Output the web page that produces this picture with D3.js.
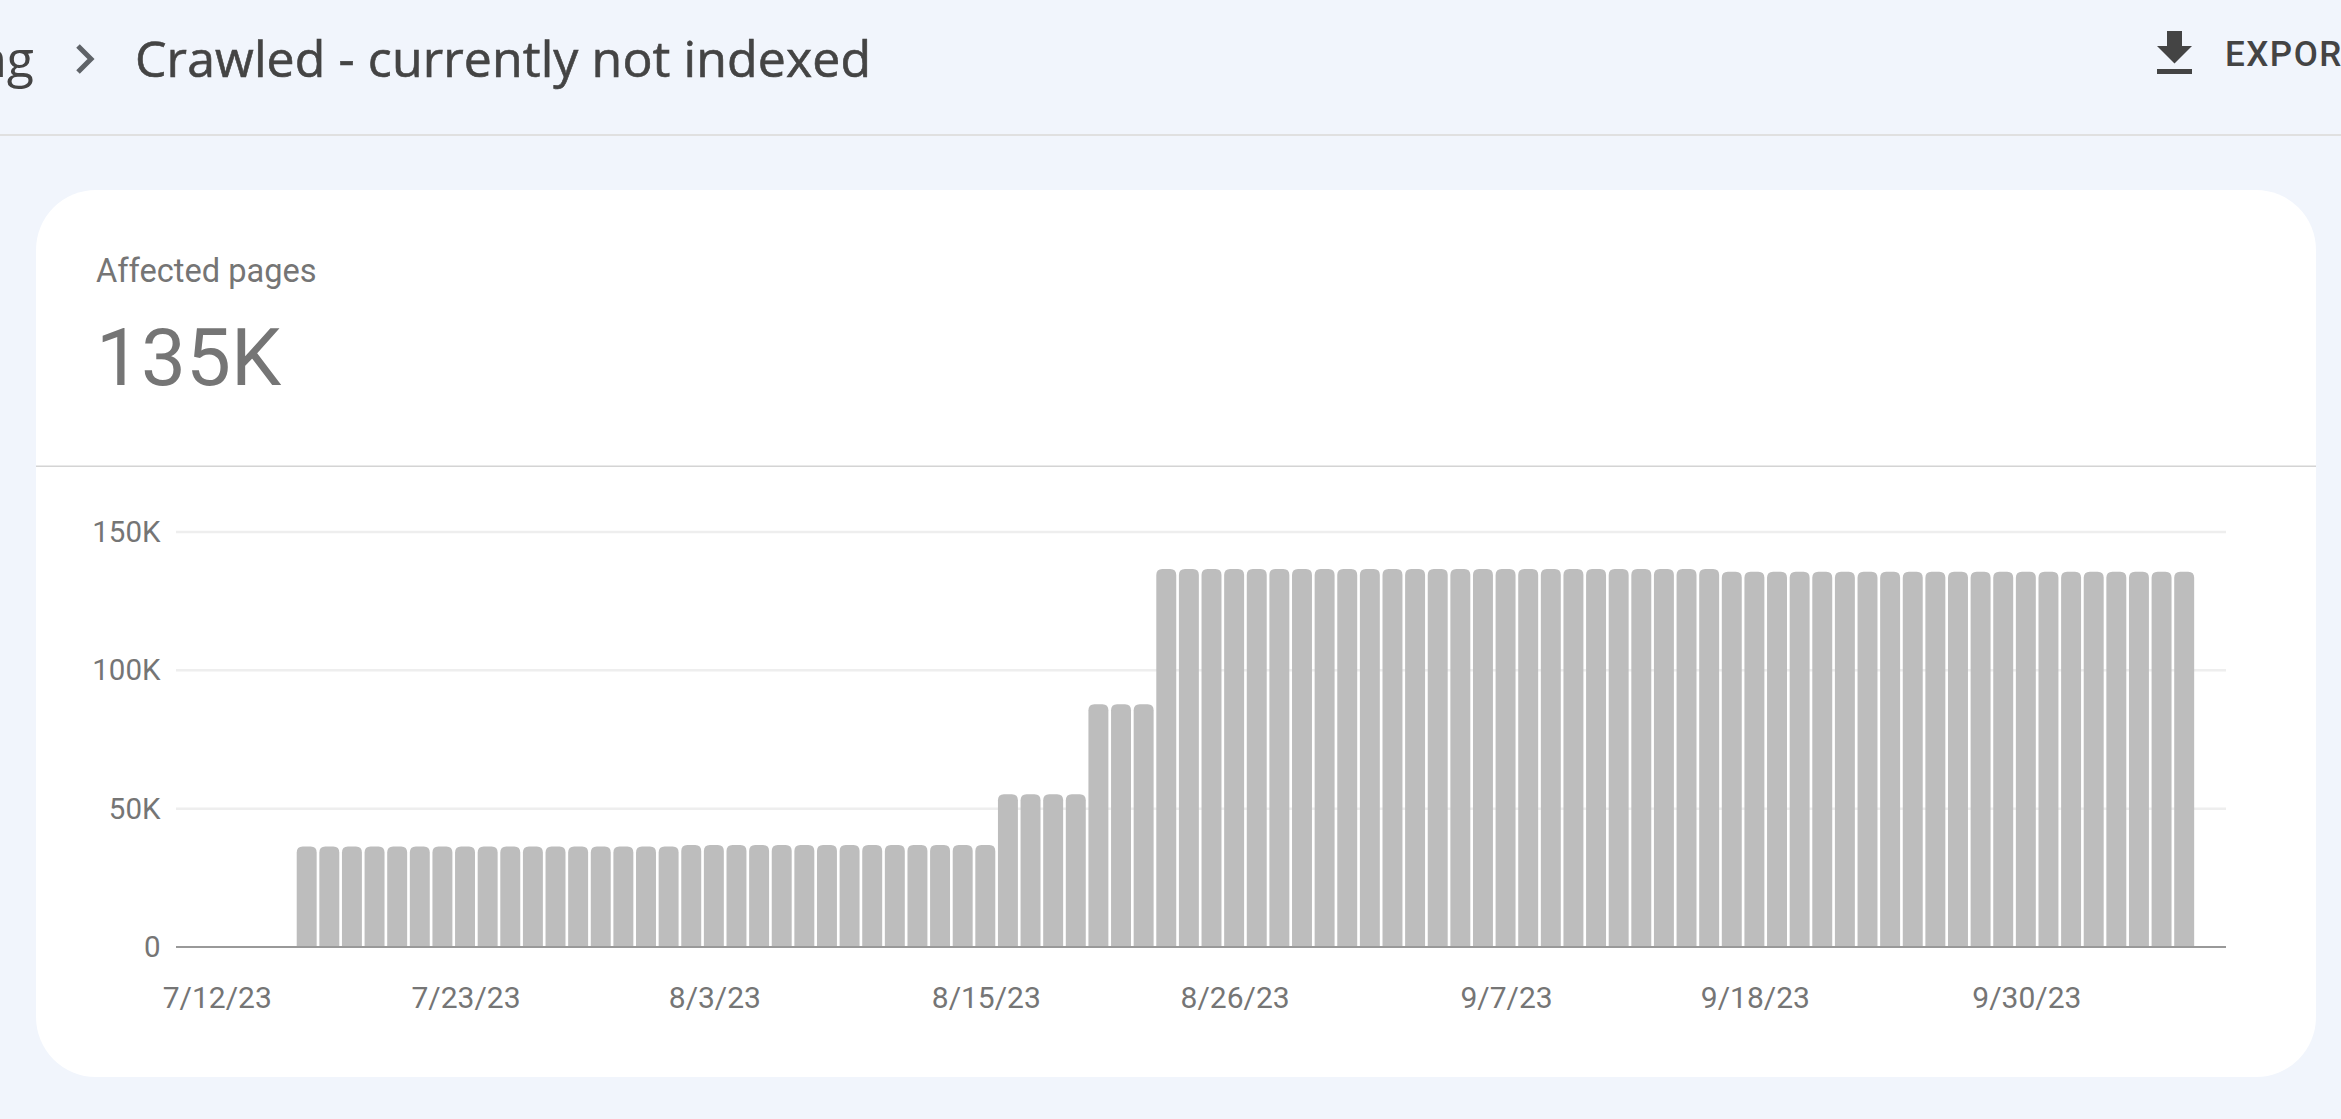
<!DOCTYPE html>
<html>
<head>
<meta charset="utf-8">
<script src="https://cdn.jsdelivr.net/npm/d3@7"></script>
<style>
  html, body { margin: 0; padding: 0; background: #f1f5fc; overflow: hidden; }
  text { font-family: Roboto, sans-serif; }
  .axis .domain, .axis .tick line { display: none; }
  .axis text { fill: #757575; }
</style>
</head>
<body>
<div id="chart"></div>
<script>
// Values
const firstDay = new Date(2023, 6, 12);
const lastDay = new Date(2023, 9, 7);
const dayLabels = ["7/12/23", "7/23/23", "8/3/23", "8/15/23", "8/26/23", "9/7/23", "9/18/23", "9/30/23"];
const yTicks = [0, 50000, 100000, 150000];
const yTickLabels = ["0", "50K", "100K", "150K"];
const pages = [
  0, 0, 0, 0,
  36300, 36300, 36300, 36300, 36300, 36300, 36300, 36300, 36300, 36300, 36300, 36300, 36300, 36300, 36300, 36300, 36300,
  36900, 36900, 36900, 36900, 36900, 36900, 36900, 36900, 36900, 36900, 36900, 36900, 36900, 36900,
  55200, 55200, 55200, 55200,
  87700, 87700, 87700,
  136600, 136600, 136600, 136600, 136600, 136600, 136600, 136600, 136600, 136600, 136600, 136600, 136600,
  136600, 136600, 136600, 136600, 136600, 136600, 136600, 136600, 136600, 136600, 136600, 136600,
  135600, 135600, 135600, 135600, 135600, 135600, 135600, 135600, 135600, 135600, 135600,
  135600, 135600, 135600, 135600, 135600, 135600, 135600, 135600, 135600, 135600
];

const width = 2341;
const height = 1119;
const days = d3.timeDay.range(firstDay, d3.timeDay.offset(lastDay, 1));
const fmt = d => `${d.getMonth() + 1}/${d.getDate()}/${String(d.getFullYear()).slice(2)}`;

const svg = d3.select("#chart").append("svg")
    .attr("width", width)
    .attr("height", height)
    .style("display", "block");

// Page header
svg.append("text")
    .attr("x", 34).attr("y", 77)
    .attr("text-anchor", "end")
    .attr("font-size", 50)
    .attr("font-weight", 500)
    .attr("fill", "#444")
    .style("font-family", "'Open Sans', sans-serif")
    .text("Indexing");

svg.append("path")
    .attr("d", "M78,46 L91,59 L78,72")
    .attr("fill", "none")
    .attr("stroke", "#5f6368")
    .attr("stroke-width", 5);

svg.append("text")
    .attr("x", 135).attr("y", 77)
    .attr("font-size", 50)
    .attr("font-weight", 500)
    .attr("fill", "#444")
    .attr("stroke", "#444")
    .attr("stroke-width", 0.6)
    .attr("textLength", 736)
    .attr("lengthAdjust", "spacing")
    .style("font-family", "'Open Sans', sans-serif")
    .text("Crawled - currently not indexed");

svg.append("path")
    .attr("d", "M2167,31 H2182 V46 H2192 L2174.5,63.5 L2157,46 H2167 Z M2157,69 H2192 V74 H2157 Z")
    .attr("fill", "#444");

svg.append("text")
    .attr("x", 2225).attr("y", 66)
    .attr("font-size", 35)
    .attr("font-weight", 500)
    .attr("letter-spacing", 1.5)
    .attr("fill", "#444")
    .text("EXPORT");

svg.append("rect")
    .attr("x", 0).attr("y", 134)
    .attr("width", width).attr("height", 2)
    .attr("fill", "#e0e0e0");

// Card
svg.append("rect")
    .attr("x", 36).attr("y", 190)
    .attr("width", 2280).attr("height", 887)
    .attr("rx", 60)
    .attr("fill", "#fff");

svg.append("rect")
    .attr("x", 36).attr("y", 465.5)
    .attr("width", 2280).attr("height", 1.5)
    .attr("fill", "#d4d4d4");

svg.append("text")
    .attr("x", 96).attr("y", 281.5)
    .attr("font-size", 32.6)
    .attr("fill", "#757575")
    .text("Affected pages");

svg.append("text")
    .attr("x", 96).attr("y", 385)
    .attr("font-size", 80)
    .attr("fill", "#757575")
    .text("135K");

// Scales
const x = d3.scaleBand()
    .domain(days)
    .range([204.9, 2195.5])
    .paddingInner(0.118)
    .paddingOuter(0.059);

const y = d3.scaleLinear()
    .domain([0, 150000])
    .range([947, 532]);

const axisLeft = 176;
const axisRight = 2226;

// Gridlines
svg.append("g").selectAll("line")
    .data(yTicks.filter(d => d > 0))
    .enter().append("line")
    .attr("x1", axisLeft).attr("x2", axisRight)
    .attr("y1", d => y(d)).attr("y2", d => y(d))
    .attr("stroke", "#eeeeee")
    .attr("stroke-width", 2.5);

// Bars, only the top corners are rounded
const r = 6;
svg.append("g").selectAll("path")
    .data(days.map((d, i) => ({ day: d, value: pages[i] })).filter(d => d.value > 0))
    .enter().append("path")
    .attr("fill", "#bdbdbd")
    .attr("d", d => {
        const x0 = x(d.day), w = x.bandwidth(), t = y(d.value), b = y(0);
        return `M${x0},${b} V${t + r} Q${x0},${t} ${x0 + r},${t} H${x0 + w - r} Q${x0 + w},${t} ${x0 + w},${t + r} V${b} Z`;
    });

// Baseline
svg.append("line")
    .attr("x1", axisLeft).attr("x2", axisRight)
    .attr("y1", y(0)).attr("y2", y(0))
    .attr("stroke", "#999999")
    .attr("stroke-width", 1.8);

// Axes
const yAxis = d3.axisLeft(y)
    .tickValues(yTicks)
    .tickFormat((d, i) => yTickLabels[i])
    .tickSize(0)
    .tickPadding(0);

svg.append("g")
    .attr("class", "axis")
    .attr("transform", "translate(160.5,0)")
    .call(yAxis)
    .selectAll("text")
    .attr("font-size", 29.5);

const xAxis = d3.axisBottom(x)
    .tickValues(days.filter(d => dayLabels.includes(fmt(d))))
    .tickFormat(fmt)
    .tickSize(0)
    .tickPadding(0);

svg.append("g")
    .attr("class", "axis")
    .attr("transform", "translate(0,1008)")
    .call(xAxis)
    .selectAll("text")
    .attr("font-size", 30)
    .attr("dx", 1)
    .attr("dy", 0);
</script>
</body>
</html>
